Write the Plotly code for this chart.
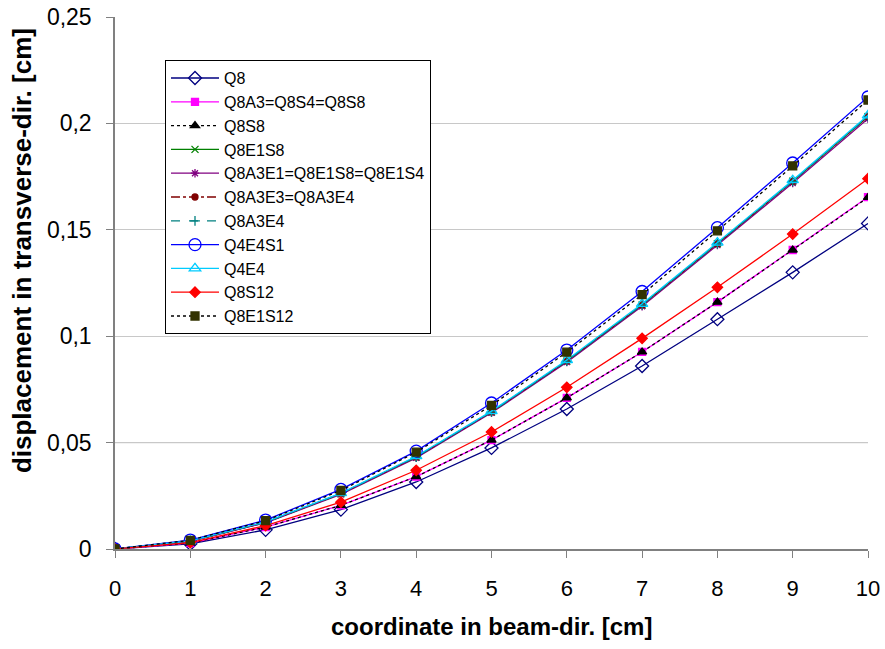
import plotly.graph_objects as go

x_vals = [0, 1, 2, 3, 4, 5, 6, 7, 8, 9, 10]

q8 = [0, 0.0024, 0.009, 0.0185, 0.0315, 0.0475, 0.0658, 0.086, 0.108, 0.130, 0.153]
q8a3 = [0, 0.0028, 0.0103, 0.0205, 0.034, 0.0512, 0.071, 0.0926, 0.116, 0.1405, 0.1654]
q8s8 = [0, 0.0028, 0.0103, 0.0205, 0.034, 0.0512, 0.071, 0.0926, 0.116, 0.1405, 0.1652]
q8e1s8 = [0, 0.0037, 0.0125, 0.026, 0.0432, 0.0644, 0.0883, 0.1147, 0.1435, 0.1728, 0.2032]
q8a3e1 = [0, 0.0036, 0.0123, 0.0257, 0.0428, 0.0640, 0.0878, 0.1141, 0.1428, 0.1720, 0.2022]
q8a3e3 = [0, 0.0037, 0.0125, 0.026, 0.0432, 0.0644, 0.0883, 0.1147, 0.1435, 0.1728, 0.2032]
q8a3e4 = [0, 0.0037, 0.0125, 0.026, 0.0432, 0.0644, 0.0883, 0.1147, 0.1435, 0.1728, 0.2032]
q4e4s1 = [0, 0.0042, 0.0136, 0.028, 0.046, 0.0686, 0.0935, 0.121, 0.151, 0.1814, 0.2124]
q4e4 = [0, 0.0038, 0.0127, 0.0263, 0.0436, 0.0648, 0.0888, 0.1152, 0.1440, 0.1733, 0.2038]
q8s12 = [0, 0.003, 0.011, 0.022, 0.037, 0.055, 0.076, 0.099, 0.123, 0.148, 0.174]
q8e1s12 = [0, 0.0041, 0.0133, 0.0275, 0.0455, 0.0675, 0.0925, 0.1195, 0.1495, 0.180, 0.211]

y_ticks = [0, 0.05, 0.1, 0.15, 0.2, 0.25]

x_title = "coordinate in beam-dir. [cm]"
y_title = "displacement in transverse-dir. [cm]"

series = [
    ("Q8", q8, "#000080", "solid", "diamond-open", 10),
    ("Q8A3=Q8S4=Q8S8", q8a3, "#FF00FF", "solid", "square", 7),
    ("Q8S8", q8s8, "#000000", "dot", "triangle-up", 8),
    ("Q8E1S8", q8e1s8, "#008000", "solid", "x-thin-open", 7),
    ("Q8A3E1=Q8E1S8=Q8E1S4", q8a3e1, "#800080", "solid", "asterisk-open", 7),
    ("Q8A3E3=Q8A3E4", q8a3e3, "#800000", "dashdot", "circle", 6),
    ("Q8A3E4", q8a3e4, "#008080", "dash", "cross-thin-open", 7),
    ("Q4E4S1", q4e4s1, "#0000FF", "solid", "circle-open", 12),
    ("Q4E4", q4e4, "#00CCFF", "solid", "triangle-up-open", 10),
    ("Q8S12", q8s12, "#FF0000", "solid", "diamond", 8),
    ("Q8E1S12", q8e1s12, "#333300", "dot", "square", 8),
]

fig = go.Figure()
for name, vals, color, dash, sym, size in series:
    line_color = "#000000" if name == "Q8E1S12" else color
    fig.add_trace(go.Scatter(
        x=x_vals, y=vals, name=name, mode="lines+markers",
        line=dict(color=line_color, dash=dash, width=1.3),
        marker=dict(symbol=sym, size=size, color=color, line=dict(color=color, width=1.3)),
    ))

# the 0,05 gridline is drawn darker in the original
fig.add_hline(y=y_ticks[1], line=dict(color="#7a7a7a", width=1), layer="below")

fig.update_layout(
    width=885, height=649,
    margin=dict(l=115, r=17, t=17, b=100),
    paper_bgcolor="white", plot_bgcolor="white",
    separators=",.",
    font=dict(family="Liberation Sans, Arial, sans-serif", color="black", size=20),
    showlegend=True,
    legend=dict(
        x=0.0664, y=0.919, xanchor="left", yanchor="top",
        bgcolor="white", bordercolor="black", borderwidth=1,
        font=dict(size=16, family="Liberation Sans, Arial, sans-serif"),
        tracegroupgap=0, itemwidth=48,
    ),
    xaxis=dict(
        range=[0, 10], tickvals=x_vals, showgrid=False, zeroline=False,
        showline=True, linecolor="#808080", linewidth=1.5,
        ticks="outside", ticklen=7, tickcolor="#808080",
        tickfont=dict(size=22), ticklabelstandoff=12, automargin=False,
        ticklabeloverflow="allow",
    ),
    yaxis=dict(
        range=[0, 0.25], tickvals=y_ticks, showgrid=True, gridcolor="#c8c8c8",
        zeroline=False, showline=True, linecolor="#808080", linewidth=1.5,
        ticks="outside", ticklen=7, tickcolor="#808080",
        tickfont=dict(size=23), ticklabelstandoff=10, automargin=False,
        ticklabeloverflow="allow",
    ),
    annotations=[
        dict(text="<b>" + x_title + "</b>", xref="paper", yref="paper",
             x=0.5, y=-0.1466, xanchor="center", yanchor="middle",
             showarrow=False, font=dict(size=24)),
        dict(text="<b>" + y_title + "</b>", xref="paper", yref="paper",
             x=-0.1235, y=0.56, xanchor="center", yanchor="middle",
             textangle=-90, showarrow=False, font=dict(size=26)),
    ],
)

fig.write_html("out.html", config={"displayModeBar": False},
               post_script="document.body.style.margin='0';")
